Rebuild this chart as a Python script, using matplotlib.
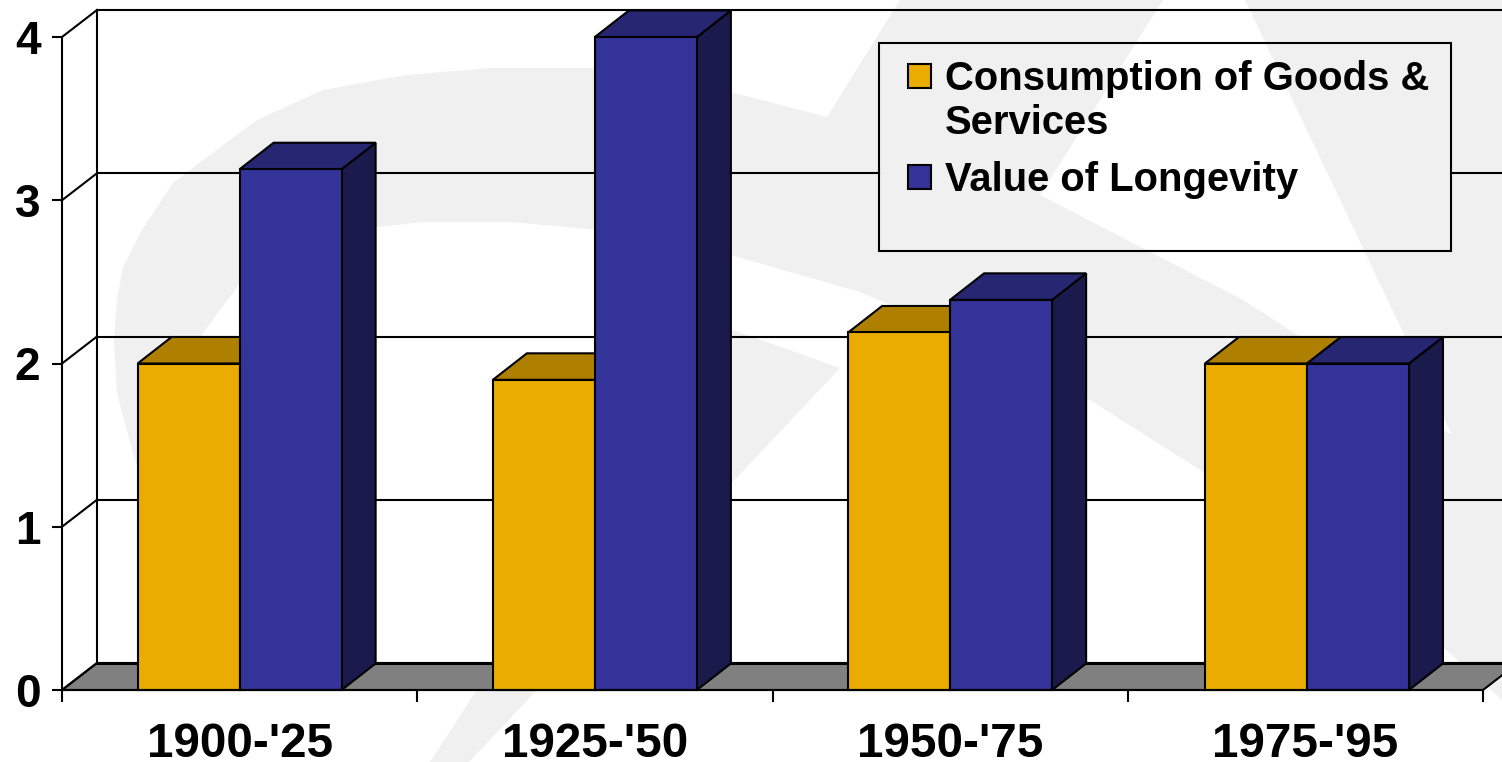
import matplotlib
matplotlib.use("Agg")
import matplotlib.pyplot as plt
from matplotlib.patches import Polygon, Rectangle

plt.rcParams['font.family'] = ['Liberation Sans', 'DejaVu Sans']

# Data
periods = ["1900-'25", "1925-'50", "1950-'75", "1975-'95"]
consumption = [2.0, 1.9, 2.19, 2.0]
longevity = [3.19, 4.0, 2.39, 2.0]
y_ticks = [0, 1, 2, 3, 4]
series_names = ["Consumption of Goods &\nServices", "Value of Longevity"]

W, H = 1502, 762
ORANGE, ORANGE_TOP = "#EAAC00", "#AF8000"
BLUE, BLUE_TOP, BLUE_SIDE = "#333399", "#262673", "#1A1A4D"
WATERMARK = "#F0F0F0"

fig = plt.figure(figsize=(W / 100, H / 100), dpi=100, facecolor="white")
ax = fig.add_axes([62 / W, (H - 690) / H, 1421 / W, 653 / H])
ax.set_xlim(0, 4)
ax.set_ylim(0, 4)
ax.patch.set_visible(False)

# pixel sizes turned into data units
px_x = 4 / 1421
px_y = 4 / 653
wall_dx, wall_dy = 35 * px_x, 27 * px_y
bar_dx, bar_dy = 34 * px_x, 26.5 * px_y
bar_w = 102 * px_x
group_nudge = [0, 0, 0, 1.6 * px_x]  # last group sits a bit right of its slot


# Faint logo behind the chart, pixel outlines of the decoration
def logo(points):
    pts = [(x / W, 1 - y / H) for x, y in points]
    fig.add_artist(Polygon(pts, closed=True, facecolor=WATERMARK, edgecolor="none",
                           transform=fig.transFigure, zorder=-1))


logo([(140, 475), (133, 453), (117, 393), (114, 340), (117, 300), (123, 267), (140, 233),
      (173, 183), (207, 157), (257, 120), (323, 90), (407, 75), (490, 68), (600, 68),
      (680, 78), (734, 93), (827, 117), (900, 0), (1163, 0), (1040, 195), (1243, 300),
      (1452, 435), (1245, 0), (1502, 0), (1502, 700), (1443, 647), (1205, 473), (1090, 400),
      (960, 335), (860, 292), (734, 256), (670, 238), (600, 230), (510, 222), (423, 222),
      (377, 227), (300, 250), (240, 283), (200, 337), (180, 400), (172, 480)])
logo([(840, 368), (469, 762), (430, 762), (493, 665), (733, 330)])

# Back wall and floor
LW = 1.5
ax.plot([wall_dx, wall_dx], [wall_dy, 4 + wall_dy], color="black", lw=LW, clip_on=False, zorder=2)
ax.add_patch(Polygon([(0, 0), (4, 0), (4 + wall_dx, wall_dy), (wall_dx, wall_dy)],
                     closed=True, facecolor="#808080", edgecolor="black", lw=LW,
                     clip_on=False, zorder=2))
ax.plot([wall_dx, 4 + wall_dx], [wall_dy, wall_dy], color="black", lw=2.2, clip_on=False, zorder=2)

# Legend box in data units, the grid stops at it
box_l, box_r = (879 - 62) * px_x, (1451 - 62) * px_x
box_t, box_b = (690 - 43) * px_y, (690 - 251) * px_y
right_end = (W - 62) * px_x

for v in y_ticks:
    yy = v + wall_dy
    ax.plot([0, wall_dx], [v, yy], color="black", lw=LW, clip_on=False, zorder=2)
    if v == 0:
        continue
    if box_b < yy < box_t:
        ax.plot([wall_dx, box_l], [yy, yy], color="black", lw=LW, clip_on=False, zorder=2)
        ax.plot([box_r, right_end], [yy, yy], color="black", lw=LW, clip_on=False, zorder=2)
    else:
        ax.plot([wall_dx, right_end], [yy, yy], color="black", lw=LW, clip_on=False, zorder=2)

# Bars with their 3D sides
for i in range(len(periods)):
    c = i + 0.5 + group_nudge[i]
    pairs = [(c - bar_w, consumption[i], ORANGE, ORANGE_TOP, ORANGE_TOP),
             (c, longevity[i], BLUE, BLUE_TOP, BLUE_SIDE)]
    for left, val, front, top, side in pairs:
        right = left + bar_w
        ax.add_patch(Polygon([(right, 0), (right + bar_dx, bar_dy), (right + bar_dx, val + bar_dy), (right, val)],
                             closed=True, facecolor=side, edgecolor="black", lw=LW, clip_on=False, zorder=3))
        ax.add_patch(Polygon([(left, val), (right, val), (right + bar_dx, val + bar_dy), (left + bar_dx, val + bar_dy)],
                             closed=True, facecolor=top, edgecolor="black", lw=LW, clip_on=False, zorder=3))
        ax.bar(left, val, width=bar_w, align="edge", color=front, edgecolor="black", lw=LW, zorder=3, clip_on=False)

# Axes and ticks
for name in ["top", "right"]:
    ax.spines[name].set_visible(False)
for name in ["left", "bottom"]:
    ax.spines[name].set_linewidth(LW)
    ax.spines[name].set_zorder(4)
ax.set_yticks(y_ticks)
ax.set_yticklabels([str(v) for v in y_ticks], fontsize=33, fontweight="bold")
ax.tick_params(axis="y", length=7.5, width=LW, pad=8)
ax.set_xticks([i + 0.5 for i in range(len(periods))])
ax.set_xticklabels(periods, fontsize=34.3, fontweight="bold")
ax.tick_params(axis="x", which="major", length=0, pad=23)
ax.set_xticks(range(len(periods) + 1), minor=True)
ax.tick_params(axis="x", which="minor", length=8.5, width=LW)


# Legend, drawn by hand because its box is see-through and oversized
def to_data(px, py):
    return (px - 62) * px_x, (690 - py) * px_y


ax.add_patch(Rectangle((box_l, box_b), box_r - box_l, box_t - box_b, facecolor="none", edgecolor="black",
                       lw=LW, clip_on=False, zorder=5))
for color, sy in zip([ORANGE, BLUE], [88, 189]):
    x0, y0 = to_data(908, sy)
    ax.add_patch(Rectangle((x0, y0), 23 * px_x, 24 * px_y, facecolor=color, edgecolor="black",
                           lw=LW, clip_on=False, zorder=5))
for name, ty_px in zip(series_names, [60, 161]):
    tx, ty = to_data(945, ty_px)
    ax.text(tx, ty, name, fontsize=28.8, fontweight="bold", va="top", linespacing=1.2, zorder=5)

fig.savefig("out.png", dpi=100)
